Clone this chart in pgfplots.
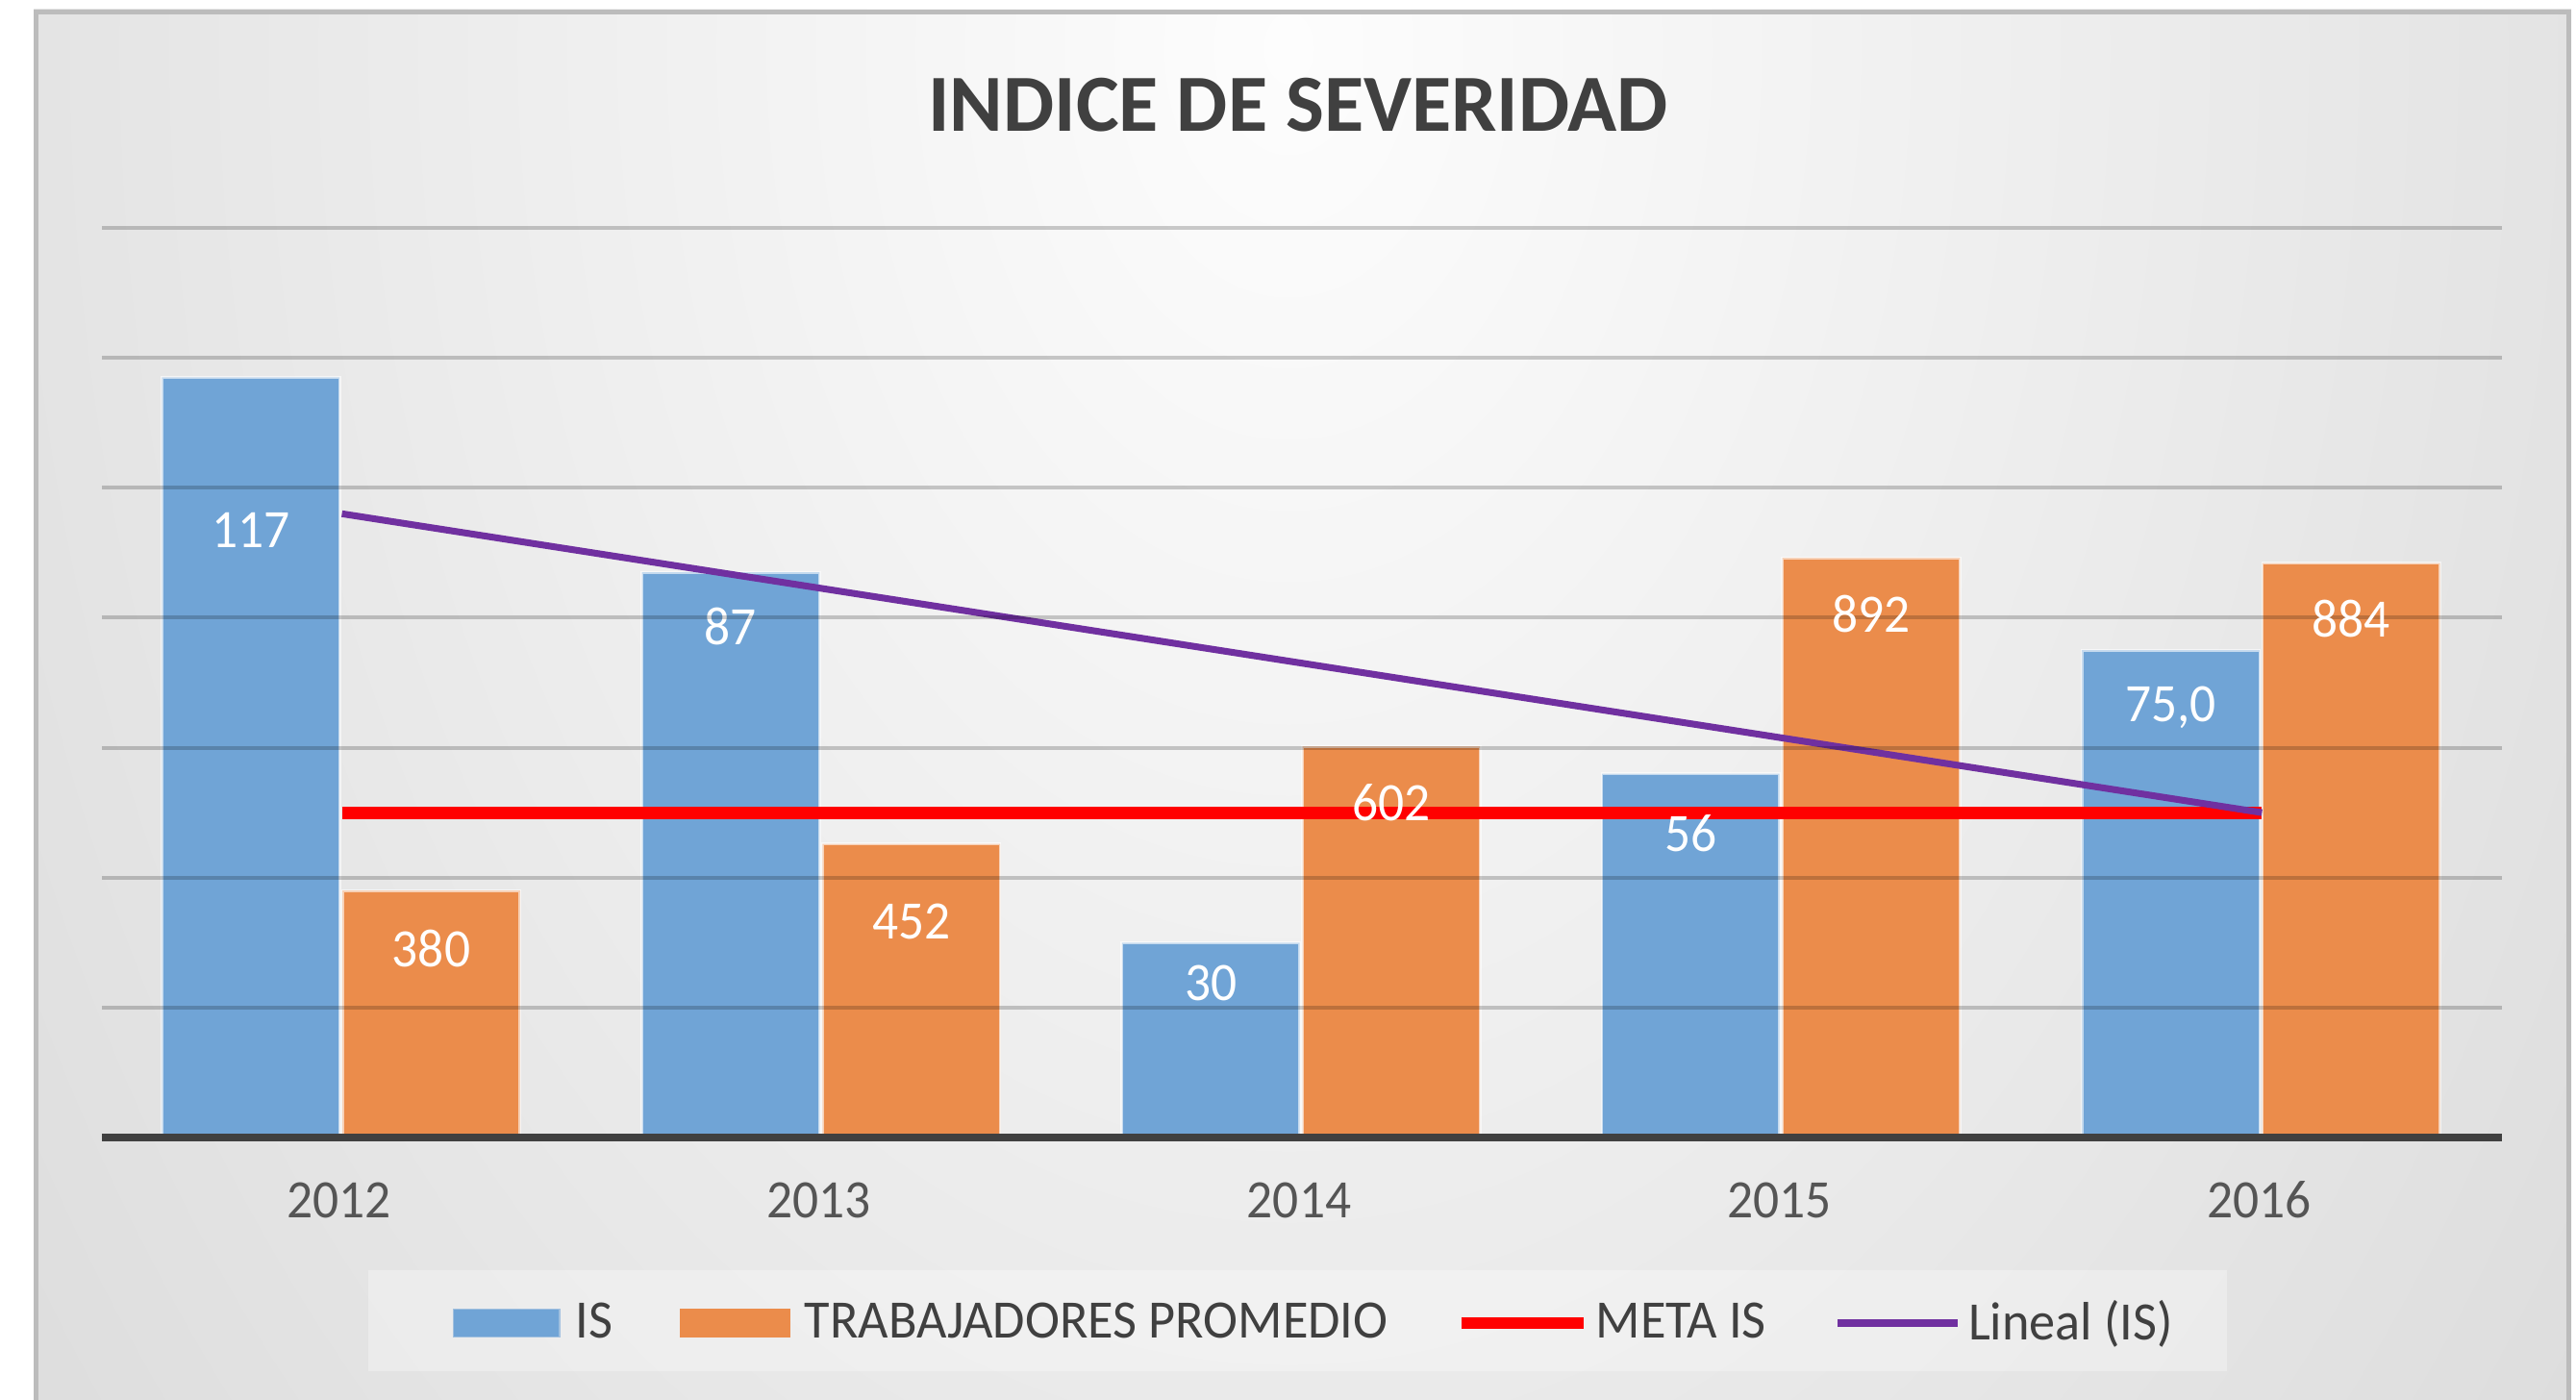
\documentclass[border=0pt]{standalone}
\usepackage{pgfplots}
\pgfplotsset{compat=1.18}
\usepackage{fontspec}
\setmainfont{Carlito}
\newfontfamily\condfont[FakeStretch=0.95]{Carlito}
\newfontfamily\legfont[FakeStretch=0.965]{Carlito}

\definecolor{isblue}{RGB}{112,164,214}
\definecolor{trorange}{RGB}{235,140,75}
\definecolor{metared}{RGB}{255,0,0}
\definecolor{linpurple}{RGB}{112,48,160}
\definecolor{txtgray}{RGB}{64,64,64}
\definecolor{tickgray}{RGB}{85,85,85}
\definecolor{bgin}{RGB}{253,253,253}
\definecolor{bgout}{RGB}{190,190,190}
\definecolor{edgegray}{RGB}{188,188,188}

\pgfplotsset{
  frame/.style={
    scale only axis, width=24.96cm, height=9.46cm,
    at={(1.06cm,2.73cm)}, anchor=south west,
    xmin=-0.5, xmax=4.5, enlargelimits=false,
    bar width=0.37,
  },
}
\tikzset{barlab/.style={font=\condfont\fontsize{16}{19}\selectfont, text=white, inner sep=0pt}}

\begin{document}
\begin{tikzpicture}
\useasboundingbox (0,0) rectangle (26.79cm,14.56cm);
\fill[white] (0,0) rectangle (26.79cm,14.56cm);
% chart area, light at the top centre
\begin{scope}
  \clip (0.35cm,0) rectangle (26.74cm,14.46cm);
  \shade[inner color=bgin, outer color=bgout] (-19.2cm,-32.56cm) rectangle (46.0cm,60.68cm);
\end{scope}
\draw[edgegray, line width=0.05cm] (0.375cm,0) -- (0.375cm,14.435cm) -- (26.715cm,14.435cm) -- (26.715cm,0);
% title
\node[anchor=base, font=\fontsize{24}{29}\selectfont\bfseries, text=txtgray]
  at (13.50cm,13.19cm) {INDICE DE SEVERIDAD};
% legend box
\fill[white, opacity=0.3] (3.83cm,0.30cm) rectangle (23.16cm,1.35cm);

% TRABAJADORES PROMEDIO (secondary scale)
\begin{axis}[frame, ymin=0, ymax=1400, hide axis]
\addplot[ybar, bar shift=0.186, fill=trorange, draw=white, draw opacity=0.6, line width=0.8pt]
  coordinates {(0,380) (1,452) (2,602) (3,892) (4,884)};
\end{axis}

% IS, meta and trend
\begin{axis}[frame, ymin=0, ymax=140,
  axis on top,
  axis x line*=bottom, axis y line*=left,
  y axis line style={draw=none},
  x axis line style={-, line width=0.08cm, color=txtgray},
  ytick={0,20,...,140}, yticklabels={},
  ymajorgrids, major grid style={black, opacity=0.2, line width=0.04cm},
  xtick={0,1,2,3,4}, xticklabels={2012,2013,2014,2015,2016},
  major tick length=0pt, tick style={draw=none},
  xticklabel style={anchor=base, xshift=-0.03cm, yshift=-0.84cm, font=\condfont\fontsize{16}{19}\selectfont, text=tickgray},
  legend columns=-1,
  legend style={at={(0.506,-0.204)}, anchor=center, draw=none, fill=none,
    font=\legfont\fontsize{16}{19}\selectfont, text=txtgray,
    /tikz/every even column/.append style={column sep=0.63cm}},
]
\addplot[ybar, bar shift=-0.19, fill=isblue, draw=white, draw opacity=0.6, line width=0.8pt,
  legend image code/.code={\fill[isblue] (0cm,-0.14cm) rectangle (1.09cm,0.14cm);
    \path (1.18cm,0cm);}]
  coordinates {(0,117) (1,87) (2,30) (3,56) (4,75)};
\addlegendentry{IS}
\addlegendimage{legend image code/.code={\fill[trorange] (0cm,-0.14cm) rectangle (1.13cm,0.14cm);
    \path (1.21cm,0cm);}}
\addlegendentry{TRABAJADORES PROMEDIO}
\addplot[metared, line width=0.13cm,
  legend image code/.code={\draw[metared, line width=0.12cm] (0cm,0cm) -- (1.27cm,0cm);}]
  coordinates {(0,50) (4,50)};
\addlegendentry{META IS}
\addplot[linpurple, line width=0.07cm,
  legend image code/.code={\draw[linpurple, line width=0.08cm] (0cm,0cm) -- (1.25cm,0cm);}]
  coordinates {(0,96) (4,50)};
\addlegendentry{Lineal (IS)}
\node[barlab] at (axis cs:-0.19,93.5) {117};
\node[barlab] at (axis cs:0.81,78.6) {87};
\node[barlab] at (axis cs:1.81,23.8) {30};
\node[barlab] at (axis cs:2.81,46.8) {56};
\node[barlab] at (axis cs:3.81,66.2) {75,0};
\end{axis}

% labels of the orange bars
\begin{axis}[frame, ymin=0, ymax=1400, hide axis]
\node[barlab] at (axis cs:0.186,291) {380};
\node[barlab] at (axis cs:1.186,332) {452};
\node[barlab] at (axis cs:2.186,516) {602};
\node[barlab] at (axis cs:3.186,806) {892};
\node[barlab] at (axis cs:4.186,799) {884};
\end{axis}
\end{tikzpicture}
\end{document}
